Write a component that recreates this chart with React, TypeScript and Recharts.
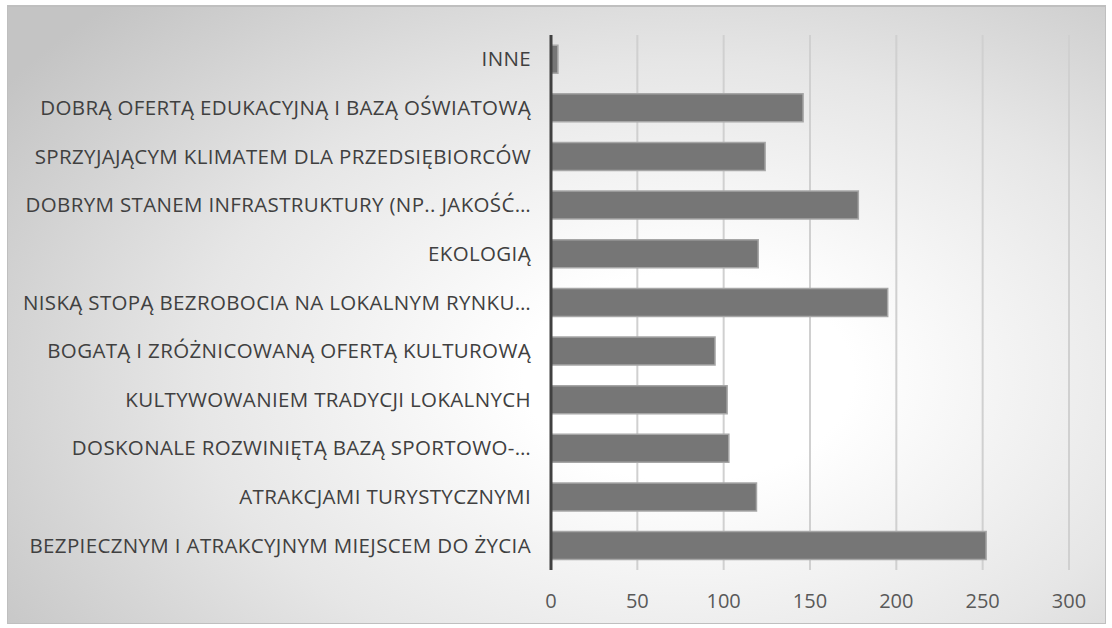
import React from "react";
import { Bar, BarChart, CartesianGrid, XAxis, YAxis } from "recharts";

const categories = [
  "INNE",
  "DOBRĄ OFERTĄ EDUKACYJNĄ I BAZĄ OŚWIATOWĄ",
  "SPRZYJAJĄCYM KLIMATEM DLA PRZEDSIĘBIORCÓW",
  "DOBRYM STANEM INFRASTRUKTURY (NP.. JAKOŚĆ…",
  "EKOLOGIĄ",
  "NISKĄ STOPĄ BEZROBOCIA NA LOKALNYM RYNKU…",
  "BOGATĄ I ZRÓŻNICOWANĄ OFERTĄ KULTUROWĄ",
  "KULTYWOWANIEM TRADYCJI LOKALNYCH",
  "DOSKONALE ROZWINIĘTĄ BAZĄ SPORTOWO-…",
  "ATRAKCJAMI TURYSTYCZNYMI",
  "BEZPIECZNYM I ATRAKCYJNYM MIEJSCEM DO ŻYCIA",
];

const values = [4, 146, 124, 178, 120, 195, 95, 102, 103, 119, 252];

const xTicks = [0, 50, 100, 150, 200, 250, 300];

const data = categories.map((name, i) => ({ name, v: values[i] }));

const FONT = "'Open Sans', sans-serif";

function CatTick(props: any) {
  const { y, payload } = props;
  return (
    <text x={531} y={y} dy={7} textAnchor="end" fill="#404040" fontSize={20.5} letterSpacing={0.35} fontFamily={FONT}>
      {payload.value}
    </text>
  );
}

function NumTick(props: any) {
  const { x, payload } = props;
  return (
    <text x={x} y={608} textAnchor="middle" fill="#595959" fontSize={20} fontFamily={FONT}>
      {payload.value}
    </text>
  );
}

export default function App() {
  return (
    <div style={{ position: "absolute", left: 0, top: 0, width: 1112, height: 628, background: "#fff" }}>
      <div
        style={{
          position: "absolute",
          left: 7,
          top: 5,
          width: 1097,
          height: 616,
          border: "1px solid #bfbfbf",
          borderTopWidth: 2,
          background: "radial-gradient(ellipse 75% 85% at 62% 60%, #ffffff 0%, #ffffff 20%, #e6e6e6 60%, #c4c4c4 100%)",
        }}
      />
      <div style={{ position: "absolute", left: 0, top: 0 }}>
        <BarChart
          width={1112}
          height={628}
          data={data}
          layout="vertical"
          barCategoryGap="21%"
          margin={{ top: 35, right: 43, bottom: 28, left: 0 }}
        >
          <CartesianGrid horizontal={false} stroke="#d0d0d0" strokeWidth={2} />
          <XAxis
            type="number"
            domain={[0, 300]}
            ticks={xTicks}
            axisLine={false}
            tickLine={false}
            height={30}
            tick={<NumTick />}
          />
          <YAxis
            type="category"
            dataKey="name"
            width={551}
            axisLine={{ stroke: "#404040", strokeWidth: 3 }}
            tickLine={false}
            tick={<CatTick />}
            interval={0}
          />
          <Bar dataKey="v" fill="#767676" stroke="#a6a6a6" strokeWidth={1.5} isAnimationActive={false} />
        </BarChart>
      </div>
    </div>
  );
}
